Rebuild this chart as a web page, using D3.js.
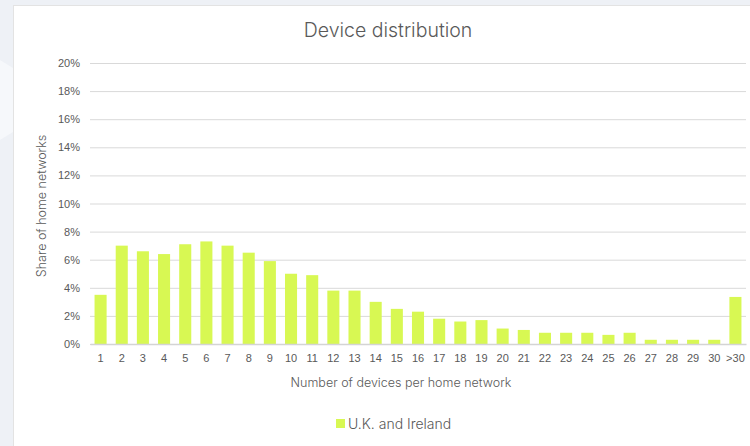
<!DOCTYPE html>
<html>
<head>
<meta charset="utf-8">
<script src="https://cdn.jsdelivr.net/npm/d3@7"></script>
<style>
  body { margin: 0; background: #eef1f6; }
  svg { display: block; font-family: "Inter", "Lato", sans-serif; font-weight: 300; }
</style>
</head>
<body>
<div id="chart"></div>
<script>
// data
const categories = ["1","2","3","4","5","6","7","8","9","10","11","12","13","14","15",
  "16","17","18","19","20","21","22","23","24","25","26","27","28","29","30",">30"];
const shares = [3.5, 7.0, 6.6, 6.4, 7.1, 7.3, 7.0, 6.5, 5.9, 5.0, 4.9, 3.8, 3.8, 3.0, 2.5,
  2.3, 1.8, 1.6, 1.7, 1.1, 1.0, 0.8, 0.8, 0.8, 0.65, 0.8, 0.3, 0.3, 0.3, 0.3, 3.35];
const yTicks = [0, 2, 4, 6, 8, 10, 12, 14, 16, 18, 20];
const seriesName = "U.K. and Ireland";

const width = 750, height = 446;
const margin = { top: 63, right: 4, bottom: 102, left: 90 };
const barColor = "#d8f853";
const textColor = "#595959";

const svg = d3.select("#chart")
  .append("svg")
  .attr("width", width)
  .attr("height", height);

// page background bits left of the card
svg.append("polygon")
  .attr("points", "0,60 13,68 13,132 0,140")
  .attr("fill", "#f6f8fb");

// card
svg.append("rect")
  .attr("x", 13.5).attr("y", 5.5)
  .attr("width", width).attr("height", height)
  .attr("fill", "#fff")
  .attr("stroke", "#e3e3e3");

const x = d3.scaleBand()
  .domain(categories)
  .range([margin.left, width - margin.right])
  .paddingInner(0.43)
  .paddingOuter(0.215);

const y = d3.scaleLinear()
  .domain([0, 20])
  .range([height - margin.bottom, margin.top]);

// gridlines + y labels
const yAxis = svg.append("g")
  .attr("transform", `translate(${margin.left},0)`)
  .call(d3.axisLeft(y).tickValues(yTicks).tickFormat(d => d + "%")
    .tickSize(-(width - margin.right - margin.left)).tickPadding(10));
yAxis.select(".domain").remove();
yAxis.selectAll("line").attr("stroke", "#d9d9d9");
yAxis.selectAll("text").attr("fill", textColor).style("font-size", "11px");

// bars
svg.append("g")
  .selectAll("rect")
  .data(shares)
  .join("rect")
  .attr("x", (d, i) => x(categories[i]))
  .attr("y", d => y(d))
  .attr("width", x.bandwidth())
  .attr("height", d => y(0) - y(d))
  .attr("fill", barColor);

// x axis
const xAxis = svg.append("g")
  .attr("transform", `translate(0,${y(0)})`)
  .call(d3.axisBottom(x).tickSize(0).tickPadding(10));
xAxis.select(".domain").attr("stroke", "#d4d4d4").attr("stroke-width", 1.5);
xAxis.selectAll("text").attr("fill", textColor).style("font-size", "11px");

// title
svg.append("text")
  .attr("x", 388).attr("y", 37)
  .attr("text-anchor", "middle")
  .attr("fill", textColor)
  .style("font-size", "19.5px")
  .text("Device distribution");

// axis titles
svg.append("text")
  .attr("x", 401).attr("y", 387)
  .attr("text-anchor", "middle")
  .attr("fill", textColor)
  .style("font-size", "12.5px")
  .text("Number of devices per home network");

svg.append("text")
  .attr("transform", "translate(46,206) rotate(-90)")
  .attr("text-anchor", "middle")
  .attr("fill", textColor)
  .style("font-size", "12.5px")
  .text("Share of home networks");

// legend
const legend = svg.append("g").attr("transform", "translate(336,424)");
legend.append("rect")
  .attr("x", 0).attr("y", -5)
  .attr("width", 9).attr("height", 9)
  .attr("fill", barColor);
legend.append("text")
  .attr("x", 12).attr("y", 5)
  .attr("fill", textColor)
  .style("font-size", "14px")
  .text(seriesName);
</script>
</body>
</html>
